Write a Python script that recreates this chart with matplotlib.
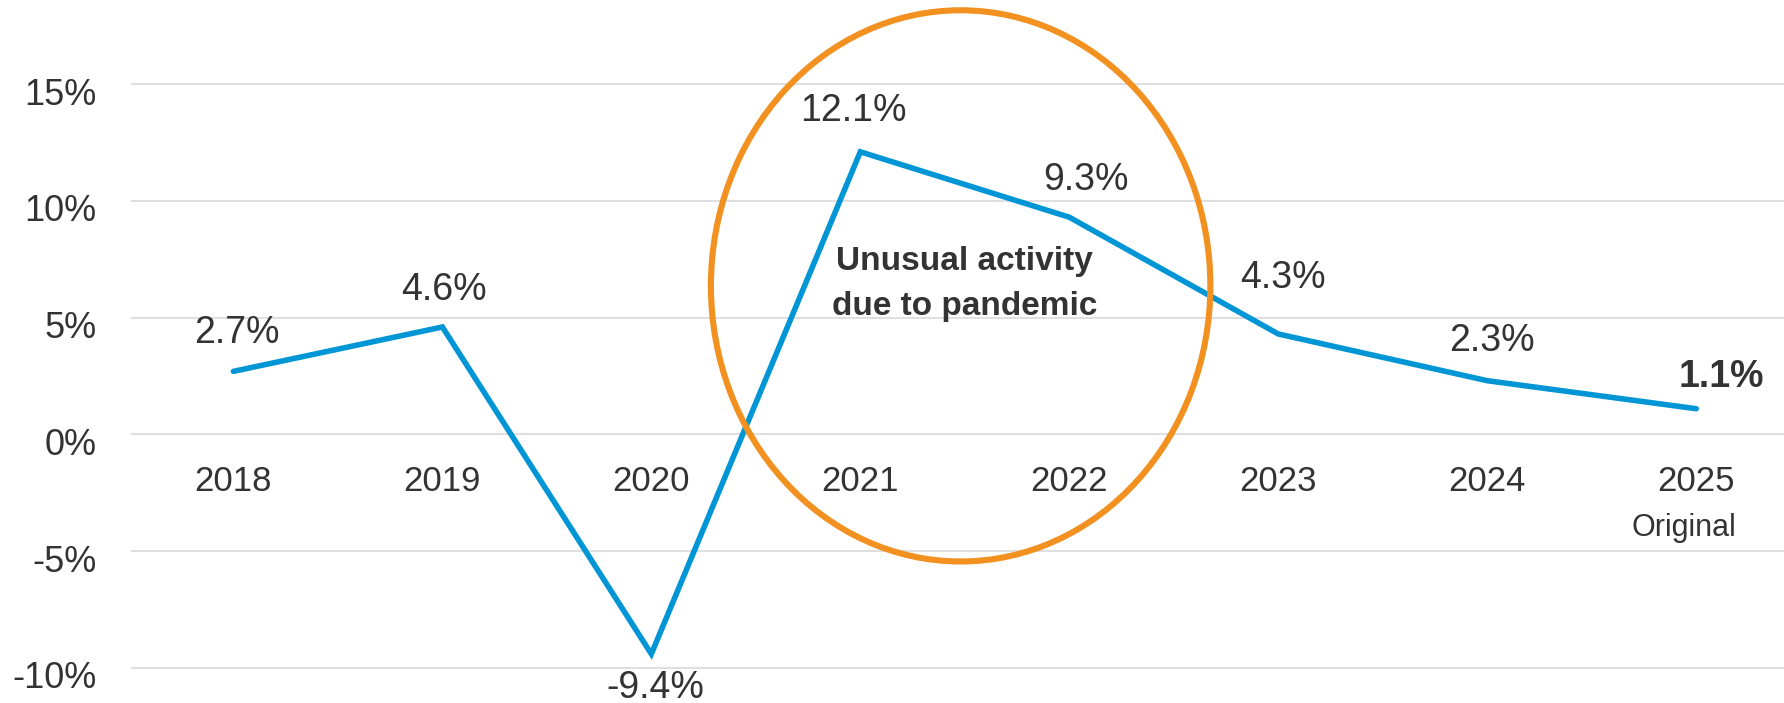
import matplotlib
matplotlib.use("Agg")
import matplotlib.pyplot as plt
from matplotlib.patches import Ellipse
from matplotlib import font_manager
from matplotlib.transforms import ScaledTranslation

years = ["2018", "2019", "2020", "2021", "2022", "2023", "2024", "2025"]
growth = [2.7, 4.6, -9.4, 12.1, 9.3, 4.3, 2.3, 1.1]
y_ticks = [-10, -5, 0, 5, 10, 15]
y_tick_labels = ["-10%", "-5%", "0%", "5%", "10%", "15%"]
last_sublabel = "Original"
note_text = "Unusual activity\ndue to pandemic"

names = {f.name for f in font_manager.fontManager.ttflist}
base_font = "Liberation Sans" if "Liberation Sans" in names else "DejaVu Sans"
narrow_font = "Liberation Sans Narrow" if "Liberation Sans Narrow" in names else base_font
plt.rcParams["font.family"] = [base_font, "DejaVu Sans"]

TEXT = "#333333"
BLUE = "#0096D6"
ORANGE = "#F29120"
GRID = "#D9D9D9"

fig = plt.figure(figsize=(17.84, 7.03), dpi=100)
ax = fig.add_axes([131 / 1784, 0, 1 - 131 / 1784, 1])
ax.set_xlim(-0.49, 7.42)
ax.set_ylim(-11.5, 18.6)

for s in ax.spines.values():
    s.set_visible(False)

ax.set_yticks(y_ticks)
ax.set_yticklabels(y_tick_labels)
ax.tick_params(axis="y", length=0, pad=25, labelsize=26, labelcolor=TEXT)
shift_down = ScaledTranslation(0, -7 / 100, fig.dpi_scale_trans)
for lab in ax.get_yticklabels():
    lab.set_transform(lab.get_transform() + shift_down)
ax.yaxis.grid(True, color=GRID, linewidth=1.2)
ax.set_axisbelow(True)

ax.spines["bottom"].set_position(("data", 0))
x = list(range(len(years)))
ax.set_xticks(x)
ax.set_xticklabels(years)
ax.tick_params(axis="x", length=0, pad=22, labelsize=25, labelcolor=TEXT)

ax.plot(x, growth, color=BLUE, linewidth=4.0, solid_capstyle="round",
        solid_joinstyle="miter", zorder=3)

# data labels
offsets = [38, 37, -34, 41, 37, 56, 40, 32]
x_shift = [3, 2, 4, -7, 17, 5, 5, 25]
for i, v in enumerate(growth):
    bold = i == len(growth) - 1
    ax.annotate(f"{v:.1f}%", (i, v), xytext=(x_shift[i], offsets[i]),
                textcoords="offset pixels", ha="center", va="center",
                fontsize=27, color=TEXT,
                fontweight="bold" if bold else "normal", zorder=4)

# sublabel under last category
ax.annotate(last_sublabel, (len(years) - 1, 0), xytext=(-12, -94),
            textcoords="offset pixels", ha="center", va="center",
            fontsize=22, color=TEXT)

# highlight ellipse and note
ell = Ellipse((3.48, 6.36), width=2.39, height=23.6, fill=False,
              edgecolor=ORANGE, linewidth=4.4, zorder=5)
ax.add_patch(ell)
ax.text(3.50, 6.45, note_text, ha="center", va="center", fontsize=24,
        fontweight="bold", color=TEXT, family=[narrow_font, "DejaVu Sans"],
        linespacing=1.6, zorder=6)

fig.savefig("out.png", dpi=100)
